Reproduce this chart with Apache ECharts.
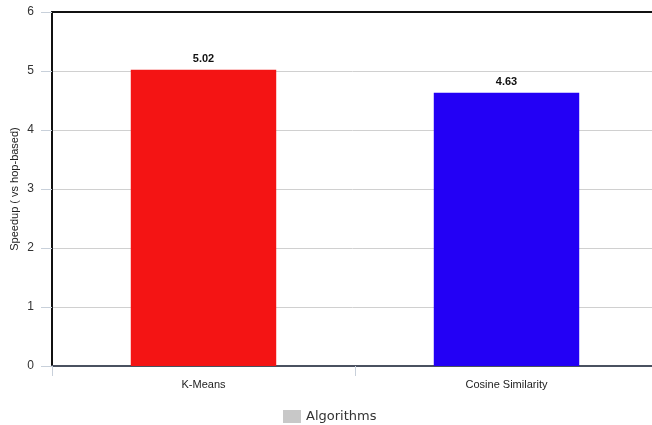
<!DOCTYPE html>
<html>
<head>
<meta charset="utf-8">
<script src="https://cdn.jsdelivr.net/npm/echarts@6/dist/echarts.min.js"></script>
<style>
  html, body { margin: 0; padding: 0; background: #fff; }
  #chart { width: 652px; height: 425px; }
</style>
</head>
<body>
<div id="chart"></div>
<script>
// Speedup of each algorithm over the hop-based approach
const categories = ['K-Means', 'Cosine Similarity'];
const speedups = [5.02, 4.63];
const barColors = ['#f41414', '#2300f5'];
const yTicks = [0, 1, 2, 3, 4, 5, 6];

const chart = echarts.init(document.getElementById('chart'));

chart.setOption({
  animation: false,
  textStyle: { fontFamily: 'Liberation Sans, Arial, sans-serif' },
  grid: { left: 52, right: -6, top: 12, bottom: 59, containLabel: false, outerBoundsMode: 'none' },
  legend: {
    bottom: -3,
    left: 278,
    itemWidth: 18,
    itemHeight: 13,
    itemGap: 8,
    icon: 'rect',
    data: [{ name: 'Algorithms', itemStyle: { color: '#c8c8c8' } }],
    textStyle: { fontFamily: 'DejaVu Sans, sans-serif', fontSize: 13, color: '#333' }
  },
  xAxis: [
    {
      type: 'category',
      data: categories,
      axisLine: { lineStyle: { color: '#4a5160', width: 2 } },
      axisTick: { show: true, length: 10, lineStyle: { color: '#c8d0da' } },
      axisLabel: { color: '#222', fontSize: 11, margin: 13 }
    },
    {
      type: 'category',
      position: 'top',
      data: categories,
      axisLine: { show: true, lineStyle: { color: '#111', width: 2 } },
      axisTick: { show: false },
      axisLabel: { show: false }
    }
  ],
  yAxis: {
    type: 'value',
    min: yTicks[0],
    max: yTicks[yTicks.length - 1],
    interval: 1,
    name: 'Speedup ( vs hop-based)',
    nameLocation: 'middle',
    nameGap: 32,
    nameMoveOverlap: false,
    nameTextStyle: { color: '#222', fontSize: 11 },
    axisLine: { show: true, lineStyle: { color: '#111', width: 2 } },
    axisTick: { show: true, length: 11, lineStyle: { color: '#c8d0da' } },
    axisLabel: { color: '#333', fontSize: 12, margin: 18 },
    splitLine: { lineStyle: { color: '#d0d0d0', width: 1 } }
  },
  series: [
    {
      name: 'Algorithms',
      type: 'bar',
      xAxisIndex: 0,
      barWidth: '48%',
      data: speedups.map((v, i) => ({ value: v, itemStyle: { color: barColors[i] } })),
      itemStyle: { color: '#c8c8c8' },
      label: {
        show: true,
        position: 'top',
        distance: 5,
        formatter: p => p.value.toFixed(2),
        color: '#111',
        fontWeight: 'bold',
        fontSize: 11
      }
    }
  ]
});
</script>
</body>
</html>
